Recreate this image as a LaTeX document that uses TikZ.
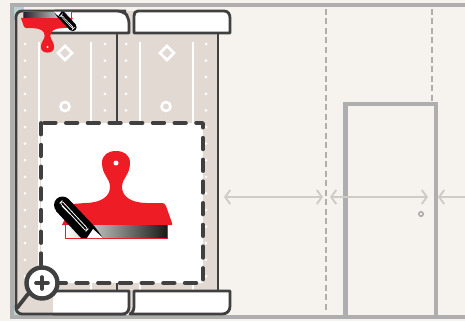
\documentclass[tikz,border=0pt]{standalone}
\usetikzlibrary{arrows.meta}
\definecolor{wallbg}{HTML}{F6F3EE}
\definecolor{wallgray}{HTML}{AEAEAE}
\definecolor{paperfill}{HTML}{E2D9D3}
\definecolor{darkline}{HTML}{404040}
\definecolor{scraperred}{HTML}{EE1C25}
\definecolor{gaparrow}{HTML}{CFCBC6}
\definecolor{cornerblue}{HTML}{B9D2D2}
\tikzset{
  outline/.style={draw=darkline,line width=2.8pt,line join=round},
  tab/.style={outline,fill=white},
  walledge/.style={draw=wallgray,line width=4.4pt},
  gap/.style={draw=gaparrow,line width=1.9pt,{Straight Barb[length=5pt,width=14pt]}-{Straight Barb[length=5pt,width=14pt]}},
  seam/.style={draw=wallgray,line width=1.3pt,dash pattern=on 6pt off 3.5pt},
  pics/scraper/.style n args={3}{code={
    \begin{scope}[shift={(-116,-231)}]
      \fill[scraperred] (62,225) -- (72,204) -- (85,203)
        .. controls (100,203) and (110,197) .. (110,187)
        .. controls (110,178) and (102,175) .. (102,163)
        .. controls (102,155) and (108,151) .. (116,151)
        .. controls (124,151) and (130,155) .. (130,163)
        .. controls (130,175) and (122,178) .. (122,187)
        .. controls (122,197) and (132,203) .. (147,203)
        -- (162,203) .. controls (164,203) and (165,204) .. (166,206)
        -- (172,223) -- (172,225) -- cycle;
      \fill[white] (116,163) circle (2.5);
      \shade[left color=#1,right color=#2] (65,225) rectangle (167,238);
      \draw[scraperred,line width=#3] (65,225) -- (65,238) -- (167,238) -- (167,225);
      \fill[black] (62.5,205) circle (8.5);
      \fill[black] (68.5,199) -- (95,227) -- (103,238) -- (81,238) -- (56,211) -- cycle;
      \fill[white] (93,229) -- (103,238) -- (87,238) -- cycle;
      \draw[white,line width=#3,rounded corners=2] (60,203) -- (62,201) -- (88,229) -- (86,231) -- cycle;
      \draw[white,line width=#3] (62,206) -- (70,214);
    \end{scope}
  }},
}
\begin{document}
\begin{tikzpicture}[x=1pt,y=-1pt]
    \useasboundingbox (0,0) rectangle (465,321);
    \fill[wallbg] (0,0) rectangle (465,321);
    \fill[cornerblue] (14,7) rectangle (24,20);
    \fill[cornerblue] (14,305) rectangle (24,316);
    \draw[walledge] (465,5) -- (12,5) -- (12,317) -- (465,317);

    \draw[seam] (326,9) -- (326,312);
    \draw[seam] (432,9) -- (432,102);
    \draw[gap] (224,197) -- (323,197);
    \draw[gaparrow,line width=1.9pt,{Straight Barb[length=5pt,width=14pt]}-] (438,197) -- (465,197);
    \draw[walledge] (345.5,317) -- (345.5,104) -- (436,104) -- (436,317);
    \draw[gap] (330,197) -- (428,197);
    \draw[wallgray,line width=1.6pt] (421,214) circle (2.2);

    \path[fill=paperfill,rounded corners=6] (16,314) -- (16,11) -- (218,11) -- (218,314) -- cycle;

    \foreach \x in {39,91,140,193}
      \draw[white,line width=2.2pt] (\x,42) -- (\x,290);
    \foreach \x in {25,105,126,206}
      \foreach \y in {44,60.6,77.2,93.8,110.4,127,143.6,160.2,176.8,193.4,210,226.6,243.2,259.8,276.4}
        \fill[white] (\x,\y) circle (1.5);
    \foreach \x in {65,167}
      \draw[white,line width=2.6pt] (\x-7,53) -- (\x,46) -- (\x+7,53) -- (\x,60) -- cycle;
    \foreach \x in {65,166}
      \draw[white,line width=2.6pt] (\x,106.5) circle (4.5);

    \draw[outline] (117,33) -- (117,291);
    \draw[outline] (218,33) -- (218,291);
    \draw[outline,rounded corners=6] (126,314) -- (16,314) -- (16,11) -- (126,11);

    \draw[tab,rounded corners=6] (50,33) -- (50,11) -- (123,11) -- (129,17) [sharp corners] -- (129,33) -- cycle;
    \draw[tab] (134,33) -- (134,16) .. controls (134,13) and (135,11) .. (138,11) -- (224,11)
      .. controls (228,11) and (230,14) .. (230,18) -- (230,33) -- cycle;
    \path[fill=white] (53,291) rectangle (129,314);
    \draw[outline] (53,291) -- (129,291) -- (129,307) .. controls (129,312) and (126,314) .. (122,314) -- (53,314);
    \draw[tab] (134,291) -- (230,291) -- (230,306) .. controls (230,311) and (227,314) .. (222,314)
      -- (130,314) .. controls (133,312) and (134,310) .. (134,306) -- cycle;

    \draw[draw=darkline,fill=white,line width=3.8pt,line cap=round,line join=round,dash pattern=on 11.5pt off 10.2pt]
      (41,123) rectangle (203,283);

    \pic at (116,231) {scraper={white}{black!90}{.8pt}};
    \pic[rotate=180,scale=.47] at (47.5,15) {scraper={black!85}{white}{.5pt}};

    \draw[darkline,line width=3.8pt,line cap=round] (28,294) -- (17,308);
    \draw[draw=darkline,fill=white,line width=4.4pt] (42,283) circle (15.5);
    \draw[darkline,line width=3.6pt,line cap=round] (36,283) -- (48,283);
    \draw[darkline,line width=3.6pt,line cap=round] (42,277) -- (42,289);
\end{tikzpicture}
\end{document}
